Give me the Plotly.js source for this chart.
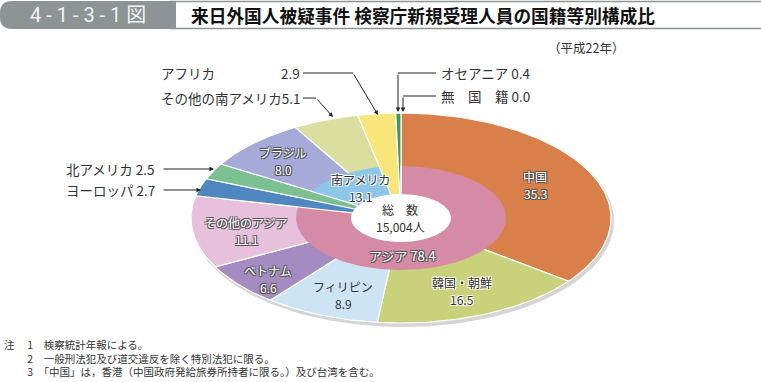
<!DOCTYPE html>
<html><head><meta charset="utf-8">
<script src="https://cdn.plot.ly/plotly-3.0.1.min.js"></script>
<style>html,body{margin:0;padding:0;background:#fff;}#chart{width:761px;height:382px;}</style>
</head><body><div id="chart"></div>
<script>
// ---- data ----
const outerLabels = ['中国','韓国・朝鮮','フィリピン','ベトナム','その他のアジア','ヨーロッパ','北アメリカ','ブラジル','その他の南アメリカ','アフリカ','オセアニア','無　国　籍'];
const outerValues = [35.3,16.5,8.9,6.6,11.1,2.7,2.5,8.0,5.1,2.9,0.4,0.0];
const innerLabels = ['アジア','ヨーロッパ','北アメリカ','南アメリカ','アフリカ','オセアニア','無国籍'];
const innerValues = [78.4,2.7,2.5,13.1,2.9,0.4,0.0];
const totalCount = 15004;
const yearLabel = '（平成22年）';
const figNo = '4 - 1 - 3 - 1 図';
const titleText = '来日外国人被疑事件 検察庁新規受理人員の国籍等別構成比';
const notes = ['検察統計年報による。','一般刑法犯及び道交違反を除く特別法犯に限る。','「中国」は，香港（中国政府発給旅券所持者に限る。）及び台湾を含む。'];

// ---- styles / geometry ----
const outerColors = ['#D9804A','#C9D27B','#CDE4F4','#A48BC1','#E7C1DC','#4F88C0','#7CC091','#A5AAD8','#DADFA0','#F9E67A','#3C9A5B','#F3E9D2'];
const innerColors = ['#D58BA6','#4F88C0','#7CC091','#8DC6E8','#F9E67A','#3C9A5B','#F3E9D2'];
const G = {cx:401, cy:218, rx:210, ry:105, mx:105, my:52, hx:50, hy:24};
const FONT = 'Noto Sans CJK JP, Noto Sans, sans-serif';

function pt(f, rx, ry){ const t=f/100*2*Math.PI; return [G.cx+rx*Math.sin(t), G.cy-ry*Math.cos(t)]; }
function wedge(a0,a1,rxo,ryo,rxi,ryi){
  const xs=[],ys=[]; const n=Math.max(2,Math.ceil((a1-a0)*3));
  for(let i=0;i<=n;i++){const p=pt(a0+(a1-a0)*i/n,rxo,ryo);xs.push(p[0]);ys.push(p[1]);}
  if(rxi===0){xs.push(G.cx);ys.push(G.cy);}
  else for(let i=n;i>=0;i--){const p=pt(a0+(a1-a0)*i/n,rxi,ryi);xs.push(p[0]);ys.push(p[1]);}
  xs.push(xs[0]);ys.push(ys[0]); return {xs,ys};
}
function ellipse(rx,ry,dx,dy){const xs=[],ys=[];for(let i=0;i<=200;i++){const p=pt(i/2,rx,ry);xs.push(p[0]+dx);ys.push(p[1]+dy);}return {xs,ys};}

const traces=[];
// shadow
const sh=ellipse(G.rx+1,G.ry+1,2,3);
traces.push({type:'scatter',mode:'lines',x:sh.xs,y:sh.ys,fill:'toself',fillcolor:'rgba(150,150,150,0.4)',line:{width:0},hoverinfo:'skip'});
// outer wedges
let c=0;
outerValues.forEach((v,i)=>{ if(v>0){const w=wedge(c,c+v,G.rx,G.ry,0,0);
  traces.push({type:'scatter',mode:'lines',x:w.xs,y:w.ys,fill:'toself',fillcolor:outerColors[i],line:{color:'#ffffff',width:1.2},hoverinfo:'skip',name:outerLabels[i]});}
  c+=v;});
// inner ring
c=0; const sepX=[],sepY=[];
innerValues.forEach((v,i)=>{ if(v>0){const w=wedge(c,c+v,G.mx,G.my,G.hx,G.hy);
  traces.push({type:'scatter',mode:'lines',x:w.xs,y:w.ys,fill:'toself',fillcolor:innerColors[i],line:{width:0},hoverinfo:'skip',name:innerLabels[i]});}
  c+=v; const a=pt(c,G.hx,G.hy),b=pt(c,G.mx,G.my); sepX.push(a[0],b[0],null); sepY.push(a[1],b[1],null);});
traces.push({type:'scatter',mode:'lines',x:sepX,y:sepY,line:{color:'#ffffff',width:1.2},hoverinfo:'skip'});
// hole
const ho=ellipse(G.hx,G.hy,0,0);
traces.push({type:'scatter',mode:'lines',x:ho.xs,y:ho.ys,fill:'toself',fillcolor:'#ffffff',line:{width:0},hoverinfo:'skip'});

const fmt=v=>v.toFixed(1);
const OUTL='-1px -1px 0 #555, 1px -1px 0 #555, -1px 1px 0 #555, 1px 1px 0 #555';
const HALO='-1px -1px 0 #fff, 1px -1px 0 #fff, -1px 1px 0 #fff, 1px 1px 0 #fff';
function lab(text,x,y,style,opts){
  const f={family:FONT,size:12,color:style==='w'?'#ffffff':'#333333'};
  if(style==='w') f.shadow=OUTL; else if(style==='h') f.shadow=HALO;
  return Object.assign({text,x,y,xref:'x',yref:'y',showarrow:false,font:f,align:'center',borderpad:0},opts||{});
}
function lab2(l1,l2,x,y,style){ const g=8.8; return [lab(l1,x,y-g,style),lab(l2,x,y+g,style)]; }
const OUT={family:FONT,size:13.5,color:'#333'};
const ann=[
  ...lab2(outerLabels[0],fmt(outerValues[0]),535,185,'w'),
  ...lab2(outerLabels[1],fmt(outerValues[1]),462,291,'h'),
  ...lab2(outerLabels[2],fmt(outerValues[2]),343,295,'d'),
  ...lab2(outerLabels[3],fmt(outerValues[3]),268,279,'w'),
  ...lab2(outerLabels[4],fmt(outerValues[4]),246,231,'w'),
  ...lab2(outerLabels[7],fmt(outerValues[7]),283,161,'w'),
  ...lab2(innerLabels[3],fmt(innerValues[3]),360,188,'h'),
  lab(innerLabels[0]+' '+fmt(innerValues[0]),402,255,'w',{font:{family:FONT,size:13,color:'#fff',shadow:OUTL}}),
  ...lab2('総　数',totalCount.toLocaleString('en-US')+'人',400,218,'d'),
  lab(outerLabels[9],160,73,'d',{xanchor:'left',font:OUT}),
  lab(fmt(outerValues[9]),301,73,'d',{xanchor:'right',font:OUT}),
  lab(outerLabels[8]+fmt(outerValues[8]),302,98,'d',{xanchor:'right',font:OUT}),
  lab(outerLabels[10]+' '+fmt(outerValues[10]),440,73,'d',{xanchor:'left',font:OUT}),
  lab(outerLabels[11]+' '+fmt(outerValues[11]),440,96,'d',{xanchor:'left',font:OUT}),
  lab(outerLabels[6]+' '+fmt(outerValues[6]),156,169,'d',{xanchor:'right',font:OUT}),
  lab(outerLabels[5]+' '+fmt(outerValues[5]),156,190,'d',{xanchor:'right',font:OUT}),
  lab(yearLabel,586,47,'d',{font:{family:FONT,size:12.5,color:'#333'}}),
  lab(figNo,88,15,'d',{font:{family:'Roboto, Noto Sans CJK JP',size:20,color:'#f2f2f2'}}),
  lab('<b>'+titleText+'</b>',190,15,'d',{xanchor:'left',font:{family:FONT,size:17.7,color:'#111'}})
];
// notes as one block
const noteLines = notes.map((n,i)=>(i===0?'注　':'　　')+' '+(i+1)+'　'+n).join('<br>');
ann.push(lab(noteLines,3,357.5,'d',{xanchor:'left',align:'left',font:{family:FONT,size:10.5,color:'#333'}}));
// arrows
function arr(x,y,ax,ay){return {x,y,ax,ay,xref:'x',yref:'y',axref:'x',ayref:'y',text:'',showarrow:true,arrowhead:2,arrowsize:0.9,arrowwidth:1,arrowcolor:'#222',standoff:0,startstandoff:0};}
ann.push(arr(378,115,353,73), arr(333,117,316,98), arr(398,112,398,73), arr(403,112,403,96), arr(214,169,162,169), arr(201,190,162,190));
const L={color:'#222',width:1};
const shapes=[
  {type:'path',xref:'x',yref:'y',path:'M303,73 L353,73',line:L},
  {type:'path',xref:'x',yref:'y',path:'M303,98 L316,98',line:L},
  {type:'path',xref:'x',yref:'y',path:'M436,73 L398,73',line:L},
  {type:'path',xref:'x',yref:'y',path:'M436,96 L403,96',line:L},
  {type:'rect',xref:'x',yref:'y',x0:170,x1:762,y0:1.5,y1:28.5,line:{color:'#8e9394',width:1.5},fillcolor:'#ffffff',layer:'below'},
  {type:'path',xref:'x',yref:'y',path:'M12,1 L176,1 L176,29 L12,29 Q0,29 0,17 L0,13 Q0,1 12,1 Z',line:{width:0},fillcolor:'#8e9394',layer:'below'}
];
const layout={width:761,height:382,margin:{l:0,r:0,t:0,b:0,pad:0},paper_bgcolor:'#fff',plot_bgcolor:'#fff',showlegend:false,
  xaxis:{range:[0,761],visible:false,fixedrange:true},yaxis:{range:[382,0],visible:false,fixedrange:true},
  annotations:ann,shapes:shapes};
Plotly.newPlot('chart',traces,layout,{displayModeBar:false,staticPlot:true});
</script></body></html>
